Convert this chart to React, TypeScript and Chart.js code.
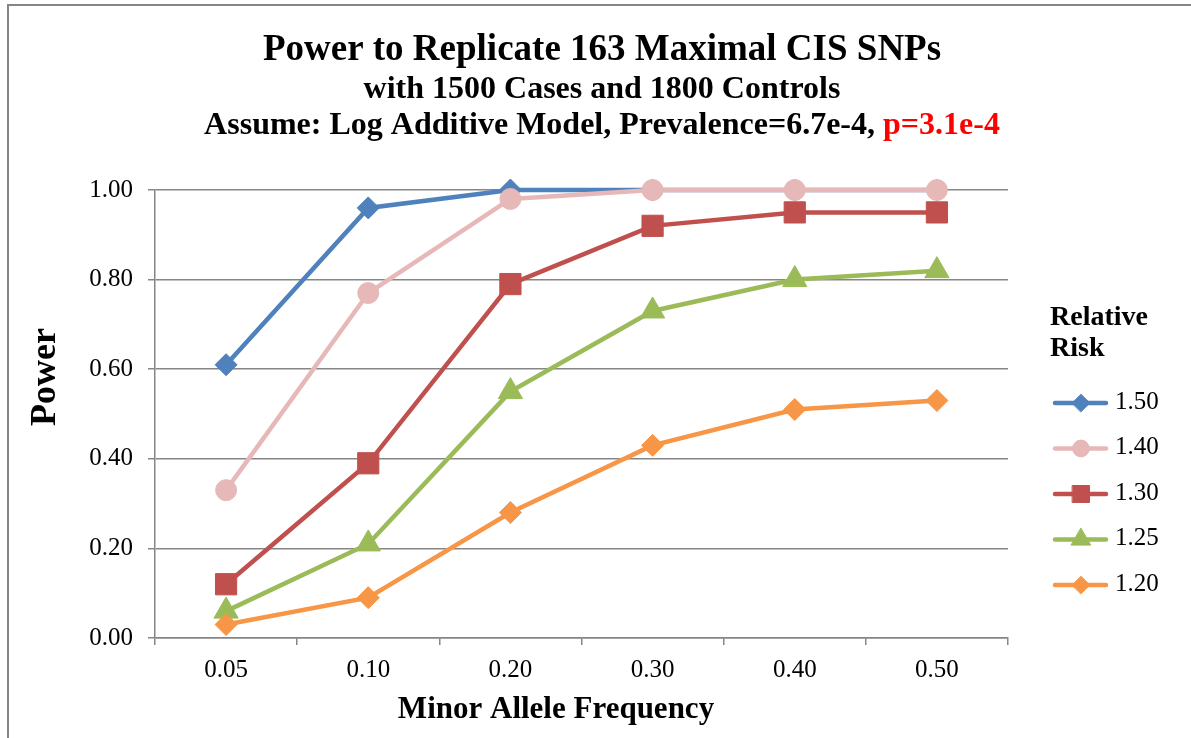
import React, { useEffect, useRef } from 'react';
import { Chart, registerables } from 'chart.js';
import { drawPoint } from 'chart.js/helpers';

Chart.register(...registerables);

// ---- data ----
const categories = ['0.05', '0.10', '0.20', '0.30', '0.40', '0.50'];
const seriesNames = ['1.50', '1.40', '1.30', '1.25', '1.20'];
const rr150 = [0.61, 0.96, 1.0, 1.0, 1.0, 1.0];
const rr140 = [0.33, 0.77, 0.98, 1.0, 1.0, 1.0];
const rr130 = [0.12, 0.39, 0.79, 0.92, 0.95, 0.95];
const rr125 = [0.06, 0.21, 0.55, 0.73, 0.8, 0.82];
const rr120 = [0.03, 0.09, 0.28, 0.43, 0.51, 0.53];
const seriesValues = [rr150, rr140, rr130, rr125, rr120];
const seriesColors = ['#4F81BD', '#E6B9B8', '#C0504D', '#9BBB59', '#F79646'];
const seriesMarkers = ['rectRot', 'circle', 'rect', 'triangle', 'rectRot'];
const markerRadius = [11, 10.5, 15, 14, 11];
const titleLine1 = 'Power to Replicate 163 Maximal CIS SNPs';
const titleLine2 = 'with 1500 Cases and 1800 Controls';
const titleLine3a = 'Assume: Log Additive Model, Prevalence=6.7e-4, ';
const titleLine3b = 'p=3.1e-4';
const xTitle = 'Minor Allele Frequency';
const yTitle = 'Power';
const legendTitle = ['Relative', 'Risk'];

const SERIF = '"Liberation Serif", "Times New Roman", serif';
const GRID = '#868686';

const decorPlugin = {
  id: 'decor',
  beforeDraw(chart: any) {
    const ctx = chart.ctx;
    ctx.save();
    ctx.fillStyle = '#ffffff';
    ctx.fillRect(0, 0, chart.width, chart.height);
    ctx.strokeStyle = GRID;
    ctx.lineWidth = 2;
    ctx.beginPath();
    ctx.moveTo(8, chart.height);
    ctx.lineTo(8, 5);
    ctx.lineTo(chart.width, 5);
    ctx.stroke();
    ctx.restore();
  },
  afterDraw(chart: any) {
    const ctx = chart.ctx;
    ctx.save();
    const cx = 602;
    ctx.textBaseline = 'alphabetic';
    ctx.textAlign = 'left';
    ctx.fillStyle = '#000';
    ctx.font = `bold 37px ${SERIF}`;
    let w = ctx.measureText(titleLine1).width;
    ctx.fillText(titleLine1, cx - w / 2, 60);
    ctx.font = `bold 32px ${SERIF}`;
    w = ctx.measureText(titleLine2).width;
    ctx.fillText(titleLine2, cx - w / 2, 98);
    const wa = ctx.measureText(titleLine3a).width;
    const wb = ctx.measureText(titleLine3b).width;
    const x0 = cx - (wa + wb) / 2;
    ctx.fillText(titleLine3a, x0, 134);
    ctx.fillStyle = '#FF0000';
    ctx.fillText(titleLine3b, x0 + wa, 134);

    // axis titles
    ctx.fillStyle = '#000';
    ctx.font = `bold 31px ${SERIF}`;
    ctx.textAlign = 'center';
    ctx.fillText(xTitle, 556, 718);
    ctx.save();
    ctx.translate(55, 377);
    ctx.rotate(-Math.PI / 2);
    ctx.font = `bold 36px ${SERIF}`;
    ctx.fillText(yTitle, 0, 0);
    ctx.restore();
    ctx.textAlign = 'left';

    // legend
    ctx.fillStyle = '#000';
    ctx.font = `bold 28px ${SERIF}`;
    ctx.fillText(legendTitle[0], 1050, 325);
    ctx.fillText(legendTitle[1], 1050, 356);
    const ys = [403, 448.5, 494, 539.5, 585];
    chart.data.datasets.forEach((ds: any, i: number) => {
      const y = ys[i];
      ctx.strokeStyle = ds.borderColor;
      ctx.lineWidth = 4.5;
      ctx.lineCap = 'round';
      ctx.beginPath();
      ctx.moveTo(1055, y);
      ctx.lineTo(1106, y);
      ctx.stroke();
      ctx.fillStyle = ds.pointBackgroundColor;
      ctx.strokeStyle = ds.pointBorderColor;
      ctx.lineWidth = 1;
      drawPoint(ctx, { pointStyle: ds.pointStyle, radius: ds.pointRadius * 0.8, borderWidth: 1, rotation: 0 }, 1081, y);
      ctx.fillStyle = '#000';
      ctx.font = `25px ${SERIF}`;
      ctx.textBaseline = 'middle';
      ctx.fillText(ds.label, 1115, y - 1);
      ctx.textBaseline = 'alphabetic';
    });
    ctx.restore();
  },
};

export default function App() {
  const ref = useRef<HTMLCanvasElement>(null);
  useEffect(() => {
    if (!ref.current) return;
    const chart = new Chart(ref.current, {
      type: 'line',
      data: {
        labels: categories,
        datasets: seriesValues.map((vals, i) => ({
          label: seriesNames[i],
          data: vals,
          borderColor: seriesColors[i],
          backgroundColor: seriesColors[i],
          pointBackgroundColor: seriesColors[i],
          pointBorderColor: seriesColors[i],
          pointBorderWidth: 1,
          pointStyle: seriesMarkers[i] as any,
          pointRadius: markerRadius[i],
          borderWidth: 4.5,
          tension: 0,
          fill: false,
          clip: false as any,
          order: seriesValues.length - i,
        })),
      },
      options: {
        animation: false,
        responsive: false,
        events: [],
        layout: { padding: { left: 0, right: 183, top: 190, bottom: 0 } },
        plugins: {
          legend: { display: false },
          title: { display: false },
          tooltip: { enabled: false },
        },
        scales: {
          x: {
            type: 'category',
            offset: true,
            afterFit: (s: any) => {
              s.height = 100;
            },
            grid: {
              offset: true,
              drawOnChartArea: false,
              drawTicks: true,
              tickLength: 7,
              color: GRID,
              lineWidth: 1.5,
            },
            border: { display: true, color: GRID, width: 1.5 },
            ticks: {
              color: '#000',
              font: { family: SERIF, size: 25 },
              padding: 10,
              maxRotation: 0,
              autoSkip: false,
            },
            title: { display: false },
          },
          y: {
            min: 0,
            max: 1,
            afterFit: (s: any) => {
              s.width = 155;
            },
            grid: {
              color: GRID,
              lineWidth: 1.5,
              tickLength: 7,
              drawTicks: true,
            },
            border: { display: true, color: GRID, width: 1.5 },
            ticks: {
              stepSize: 0.2,
              color: '#000',
              font: { family: SERIF, size: 25 },
              padding: 15,
              callback: (v: any) => Number(v).toFixed(2),
            },
            title: { display: false },
          },
        },
      },
      plugins: [decorPlugin],
    });
    return () => chart.destroy();
  }, []);
  return (
    <div style={{ position: 'absolute', left: 0, top: 0, width: 1191, height: 738 }}>
      <canvas ref={ref} width={1191} height={738} style={{ display: 'block' }} />
    </div>
  );
}
